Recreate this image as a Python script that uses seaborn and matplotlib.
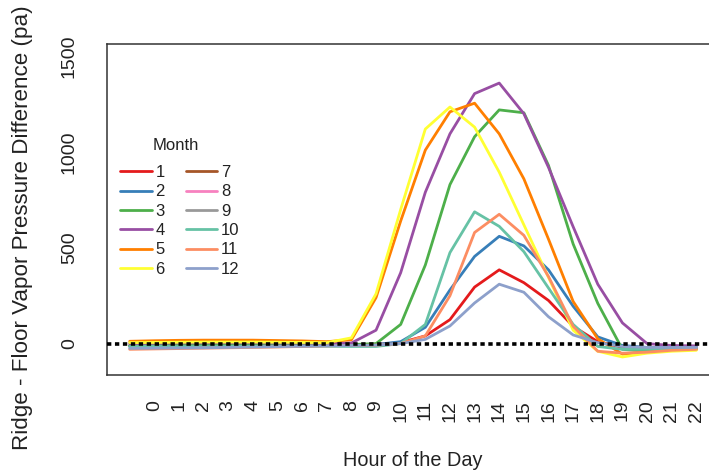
import matplotlib
matplotlib.use("Agg")
import matplotlib.pyplot as plt
import seaborn as sns
import pandas as pd
from matplotlib.lines import Line2D

# ---------------- data ----------------
hours = list(range(-1, 23))                 # plotted hour positions
hour_labels = [str(h) for h in range(0, 23)]  # tick labels
y_ticks = [0, 500, 1000, 1500]
months = ["1", "2", "3", "4", "5", "6", "7", "8", "9", "10", "11", "12"]
month_colors = ["#E41A1C", "#377EB8", "#4DAF4A", "#984EA3", "#FF7F00", "#FFFF33",
                "#A65628", "#F781BF", "#999999", "#66C2A5", "#FC8D62", "#8DA0CB"]

m1 = [-12, -12, -11, -10, -10, -9, -8, -8, -7, -6, -5, 5, 40, 125, 295, 385, 318, 225, 90, 10, -20, -25, -25, -25]
m2 = [-15, -15, -14, -13, -12, -11, -10, -10, -9, -8, -5, 10, 85, 280, 455, 560, 510, 385, 195, 35, -10, -20, -20, -18]
m3 = [-10, -10, -9, -8, -8, -7, -6, -6, -5, -5, 0, 100, 410, 830, 1080, 1220, 1205, 930, 520, 210, -30, -40, -35, -30]
m4 = [0, 2, 3, 4, 4, 4, 3, 2, 2, 3, 70, 370, 790, 1095, 1305, 1360, 1200, 920, 610, 310, 108, 0, -10, -12]
m5 = [12, 15, 17, 18, 18, 18, 16, 14, 10, 20, 240, 640, 1010, 1210, 1255, 1095, 860, 545, 220, 25, -55, -45, -35, -30]
m6 = [5, 6, 7, 8, 8, 8, 7, 6, 5, 30, 260, 700, 1120, 1235, 1130, 895, 620, 345, 70, -40, -70, -50, -40, -35]
m7 = []   # no data drawn
m8 = []   # no data drawn
m9 = []   # no data drawn
m10 = [-15, -15, -16, -16, -15, -15, -14, -14, -14, -15, -15, 0, 100, 475, 688, 612, 480, 290, 100, -15, -30, -30, -28, -25]
m11 = [-30, -28, -26, -24, -22, -20, -18, -15, -12, -10, -8, 0, 40, 250, 580, 675, 565, 350, 90, -40, -50, -45, -35, -30]
m12 = [-25, -24, -23, -22, -20, -18, -16, -14, -12, -10, -8, 0, 22, 92, 212, 310, 268, 140, 45, 5, -15, -20, -20, -20]

series = [m1, m2, m3, m4, m5, m6, m7, m8, m9, m10, m11, m12]

rows = []
for name, vals in zip(months, series):
    for h, v in zip(hours, vals):
        rows.append({"hour": h, "value": v, "month": name})
df = pd.DataFrame(rows)
present = [m for m, s in zip(months, series) if len(s) > 0]
palette = {m: c for m, c in zip(months, month_colors)}

# ---------------- style ----------------
sns.set_theme(style="white")
plt.rcParams["font.family"] = ["Liberation Sans", "DejaVu Sans"]

W, H = 709, 474
fig = plt.figure(figsize=(W / 100, H / 100), dpi=100)
ax = fig.add_axes([107 / W, (H - 375) / H, 612 / W, 331 / H])

sns.lineplot(data=df, x="hour", y="value", hue="month", hue_order=present,
             palette=palette, estimator=None, sort=False, linewidth=2.0,
             legend=False, ax=ax)

ax.axhline(0, color="black", lw=2.6, ls=(0, (1.2, 1.0)), zorder=5)

ax.set_xlim(-1.92, 22.92)
ax.set_ylim(-164, 1564)
ax.set_xticks(range(0, 23))
ax.set_xticklabels(hour_labels, rotation=90, fontsize=14, color="#222222")
ax.set_yticks(y_ticks)
ax.set_yticklabels([str(t) for t in y_ticks], rotation=90, va="center",
                   fontsize=14, color="#222222")
ax.tick_params(axis="x", direction="out", length=9.4, width=1.0, color="#333333", pad=8.5)
ax.tick_params(axis="y", direction="out", length=9.4, width=1.0, color="#333333", pad=11.5)
for sp in ax.spines.values():
    sp.set_visible(True)
    sp.set_color("#333333")
    sp.set_linewidth(1.1)
ax.grid(False)
ax.set_xlabel("")
ax.set_ylabel("")

fig.text(413 / W, 1 - 461 / H, "Hour of the Day", ha="center", va="center",
         fontsize=14.3, color="#222222")
fig.text(23 / W, 1 - 228 / H, "Ridge - Floor Vapor Pressure Difference (pa)",
         ha="center", va="center", rotation=90, fontsize=16.1, color="#222222")

# legend: title as separate text, entries in two columns
fig.text(176 / W, 1 - 146 / H, "Month", ha="center", va="center",
         fontsize=12, color="#222222")
handles = [Line2D([0], [0], color=c, lw=2.0) for c in month_colors]
leg = ax.legend(handles, months, ncol=2, frameon=False,
                loc="upper left", bbox_to_anchor=(120 / W, 1 - 165 / H),
                bbox_transform=fig.transFigure, fontsize=12,
                handlelength=1.9, handletextpad=0.22, columnspacing=1.25,
                labelspacing=0.26, borderpad=0, borderaxespad=0)
for t in leg.get_texts():
    t.set_color("#222222")

fig.savefig("out.png", dpi=100)
